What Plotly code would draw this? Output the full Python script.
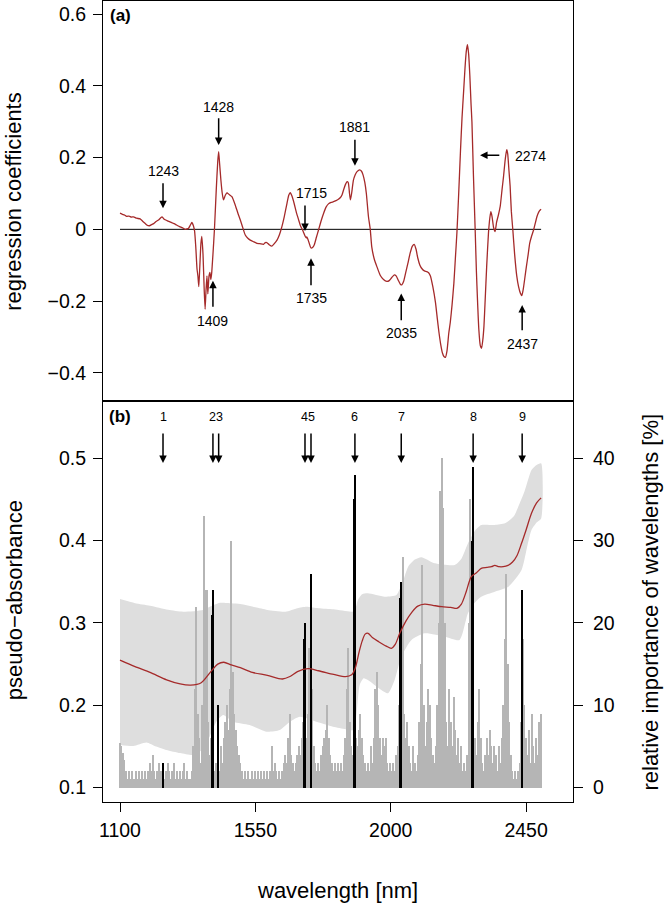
import plotly.graph_objects as go

# ---------------- Panel (a): regression coefficients ----------------
coef_wl = [1100, 1108, 1115, 1122, 1130, 1138, 1145, 1155, 1167, 1176, 1184, 1191, 1198, 1205, 1212,
           1220, 1228, 1234, 1240, 1246, 1252, 1260, 1268, 1276, 1284, 1292, 1300, 1308, 1317, 1323,
           1328, 1334, 1339, 1344, 1348, 1352, 1356, 1359, 1362, 1365, 1369, 1372, 1376, 1380, 1383,
           1386, 1389, 1392, 1396, 1399, 1402, 1405, 1409, 1414, 1420, 1425, 1428, 1431, 1435.5, 1440,
           1444, 1450, 1455.5, 1463, 1472, 1483, 1492, 1500, 1508, 1516.5, 1525, 1533, 1545, 1555, 1565,
           1577, 1583, 1588, 1596, 1605, 1613, 1622, 1630, 1638, 1646, 1655, 1661, 1666, 1672, 1679,
           1687, 1694, 1700, 1707, 1712, 1716, 1719, 1721, 1724, 1728, 1735, 1741, 1746, 1753, 1760,
           1768, 1777, 1785, 1793, 1802, 1810, 1818, 1826, 1832, 1838, 1844, 1849, 1855, 1859, 1863,
           1866, 1870, 1876, 1882, 1888, 1897, 1903, 1908, 1914, 1919, 1926, 1932, 1937, 1945, 1954,
           1965, 1976, 1987, 1995, 2003, 2012, 2018, 2025, 2032, 2037, 2043, 2050, 2057, 2065, 2072,
           2078, 2084, 2090, 2097, 2104, 2112, 2120, 2126, 2132, 2140, 2149, 2155, 2160, 2166, 2172,
           2177, 2182, 2187, 2193, 2198, 2204, 2210, 2215, 2220, 2226, 2232, 2237, 2242, 2247, 2251,
           2255, 2259, 2263, 2267, 2270, 2275, 2280.7, 2285, 2288.5, 2293, 2298, 2302, 2306, 2310, 2314,
           2319, 2325, 2330, 2333, 2337, 2342, 2347, 2352, 2358, 2364, 2370, 2375, 2380, 2384, 2386,
           2389, 2393, 2397, 2401, 2406, 2412, 2419, 2425, 2431, 2436, 2441, 2446, 2451, 2457, 2462,
           2468, 2475, 2480, 2486, 2492, 2497, 2500]
coef_val = [0.045, 0.042, 0.040, 0.036, 0.037, 0.034, 0.035, 0.031, 0.029, 0.022, 0.016, 0.011, 0.010, 0.013, 0.016,
            0.022, 0.026, 0.031, 0.035, 0.029, 0.026, 0.023, 0.020, 0.017, 0.014, 0.010, 0.007, 0.004, 0.000, 0.001,
            0.003, 0.012, 0.019, 0.010, -0.005, -0.05, -0.11, -0.13, -0.16, -0.11, -0.04, -0.02, -0.07, -0.17, -0.223,
            -0.17, -0.13, -0.18, -0.13, -0.12, -0.14, -0.12, -0.07, 0.0, 0.11, 0.19, 0.217, 0.185, 0.137, 0.10,
            0.082, 0.095, 0.102, 0.097, 0.091, 0.068, 0.045, 0.026, 0.005, -0.016, -0.025, -0.030, -0.035, -0.039, -0.040,
            -0.042, -0.037, -0.037, -0.043, -0.047, -0.040, -0.030, -0.015, 0.007, 0.035, 0.072, 0.095, 0.102, 0.092, 0.072,
            0.045, 0.026, 0.010, -0.002, -0.012, -0.020, -0.024, -0.021, -0.026, -0.036, -0.052, -0.050, -0.043, -0.022, -0.002,
            0.022, 0.045, 0.062, 0.071, 0.075, 0.077, 0.080, 0.084, 0.088, 0.096, 0.112, 0.124, 0.133, 0.130, 0.100,
            0.082, 0.100, 0.137, 0.152, 0.161, 0.166, 0.162, 0.152, 0.130, 0.100, 0.035, 0.0, -0.049, -0.082, -0.104,
            -0.128, -0.140, -0.145, -0.143, -0.135, -0.127, -0.130, -0.142, -0.153, -0.155, -0.145, -0.120, -0.095, -0.065, -0.047,
            -0.042, -0.055, -0.080, -0.100, -0.110, -0.116, -0.118, -0.121, -0.130, -0.160, -0.205, -0.250, -0.285, -0.320, -0.345,
            -0.355, -0.357, -0.340, -0.290, -0.260, -0.210, -0.150, -0.080, -0.011, 0.100, 0.220, 0.310, 0.380, 0.450, 0.495,
            0.515, 0.490, 0.430, 0.350, 0.300, 0.150, 0.0, -0.120, -0.197, -0.280, -0.325, -0.332, -0.310, -0.270, -0.197,
            -0.104, -0.010, 0.035, 0.049, 0.035, 0.005, -0.006, 0.020, 0.040, 0.064, 0.110, 0.147, 0.190, 0.215, 0.222,
            0.210, 0.165, 0.120, 0.050, -0.002, -0.070, -0.130, -0.160, -0.178, -0.185, -0.165, -0.135, -0.104, -0.070, -0.039,
            -0.020, -0.002, 0.015, 0.035, 0.048, 0.054, 0.056]

# Labelled wavelengths in panel (a)
a_labels = ["1243", "1428", "1715", "1881", "1409", "1735", "2035", "2437", "2274"]
a_label_x = [1243, 1428, 1738, 1881, 1409, 1735, 2035, 2437, 2466]
a_label_y = [0.164, 0.342, 0.100, 0.285, -0.255, -0.191, -0.290, -0.321, 0.205]
a_tail_x = [1243, 1428, 1715, 1881, 1409, 1735, 2035, 2437, 2366]
a_tail_y = [0.133, 0.314, 0.071, 0.254, -0.2205, -0.160, -0.258, -0.286, 0.2065]
a_tip_x = [1243, 1428, 1715, 1881, 1409, 1735, 2035, 2437, 2297]
a_tip_y = [0.0586, 0.235, -0.005, 0.1775, -0.1435, -0.081, -0.179, -0.211, 0.2065]

# ---------------- Panel (b): pseudo-absorbance & importance ----------------
mean_wl = [1100, 1150, 1200, 1255, 1300, 1335, 1370, 1400, 1425, 1445, 1470, 1500, 1540, 1590, 1640,
           1665, 1690, 1725, 1760, 1810, 1850, 1870, 1882, 1895, 1905, 1915, 1925, 1940, 1960, 1985,
           2002, 2015, 2030, 2050, 2070, 2090, 2113, 2140, 2170, 2200, 2220, 2235, 2250, 2268, 2285,
           2301, 2320, 2335, 2346, 2360, 2374, 2390, 2405, 2420, 2435, 2450, 2468, 2485, 2500]
mean_val = [0.255, 0.247, 0.240, 0.231, 0.226, 0.2245, 0.2275, 0.240, 0.250, 0.2523, 0.249, 0.2457, 0.240, 0.2365, 0.232,
            0.235, 0.241, 0.2445, 0.242, 0.2377, 0.2348, 0.237, 0.245, 0.265, 0.278, 0.2865, 0.2875, 0.282, 0.2773, 0.272,
            0.2693, 0.274, 0.2875, 0.302, 0.313, 0.3205, 0.323, 0.3215, 0.3198, 0.319, 0.3178, 0.323, 0.337, 0.3562, 0.361,
            0.3664, 0.3675, 0.3684, 0.370, 0.3684, 0.3684, 0.370, 0.374, 0.382, 0.3968, 0.413, 0.4332, 0.446, 0.452]

band_hi_wl = [1100, 1150, 1200, 1260, 1310, 1376, 1400, 1432, 1470, 1500, 1550, 1590, 1650, 1690, 1720,
              1760, 1810, 1869, 1880, 1891, 1905, 1924, 1980, 2019, 2040, 2058, 2080, 2102, 2147, 2213,
              2235, 2257, 2280, 2301, 2346, 2380, 2410, 2424, 2445, 2468, 2485, 2500]
band_hi = [0.329, 0.324, 0.321, 0.316, 0.3137, 0.3158, 0.320, 0.3246, 0.324, 0.323, 0.319, 0.3158, 0.3137, 0.318, 0.3198,
           0.318, 0.3166, 0.3137, 0.315, 0.328, 0.335, 0.336, 0.332, 0.334, 0.350, 0.3684, 0.377, 0.380, 0.3725, 0.3704,
           0.378, 0.3968, 0.412, 0.419, 0.419, 0.421, 0.430, 0.4412, 0.460, 0.4858, 0.492, 0.494]
band_lo_wl = [1100, 1144, 1188, 1220, 1254, 1300, 1343, 1370, 1398, 1420, 1443, 1476, 1531, 1587, 1631,
              1665, 1698, 1753, 1808, 1850, 1875, 1885, 1897, 1910, 1924, 1969, 1991, 2013, 2035, 2069,
              2113, 2180, 2229, 2257, 2280, 2301, 2346, 2391, 2435, 2455, 2468, 2485, 2500]
band_lo = [0.1518, 0.1507, 0.155, 0.150, 0.1458, 0.142, 0.1397, 0.145, 0.162, 0.180, 0.1883, 0.180, 0.176, 0.168, 0.170,
           0.180, 0.186, 0.180, 0.174, 0.171, 0.170, 0.185, 0.225, 0.233, 0.2308, 0.2186, 0.2146, 0.2308, 0.259, 0.2794,
           0.2875, 0.2834, 0.2794, 0.312, 0.325, 0.332, 0.338, 0.344, 0.3644, 0.395, 0.413, 0.422, 0.427]

imp_wl = list(range(1100, 2501, 5))
imp_val = [
    5.4, 5.0, 4.2, 3.3, 2, 1, 2, 1, 2, 1,       # 1100
    1, 2, 1, 2, 1, 2, 1, 2, 1, 2,               # 1150
    3, 2, 4, 2, 1, 2, 3, 2, 2, 2,               # 1200
    1, 2, 3, 2, 1, 2, 3, 1, 2, 1,               # 1250
    2, 1, 2, 3, 1, 2, 1, 1, 2, 5,               # 1300
    12, 22, 9, 6, 3, 10, 33, 24, 24, 8,         # 1350
    4, 6, 3, 2, 3, 4, 2, 5, 3, 6,               # 1400
    8, 10, 7, 12, 30, 14, 9, 7, 5, 4,           # 1450
    3, 2, 1, 2, 1, 2, 1, 1, 2, 1,               # 1500
    2, 1, 2, 1, 2, 1, 2, 1, 2, 1,               # 1550
    2, 5, 2, 3, 2, 1, 2, 1, 2, 3,               # 1600
    4, 3, 6, 9, 4, 3, 2, 3, 4, 5,               # 1650
    4, 6, 8, 10, 6, 9, 17, 12, 12, 5,           # 1700
    3, 2, 3, 2, 4, 5, 6, 7, 10, 6,              # 1750
    4, 3, 2, 3, 2, 3, 2, 3, 2, 4,               # 1800
    6, 12, 17, 8, 5, 4, 27, 6, 5, 7,            # 1850
    9, 6, 4, 3, 2, 3, 2, 5, 3, 6,               # 1900
    12, 14, 10, 6, 4, 6, 5, 6, 3, 2,            # 1950
    3, 2, 3, 2, 4, 5, 10, 12, 28, 9,            # 2000
    6, 8, 5, 3, 2, 5, 3, 2, 4, 8,               # 2050
    15, 27, 10, 5, 8, 12, 10, 6, 4, 3,          # 2100
    5, 10, 20, 36, 40, 34, 20, 8, 5, 12,        # 2150
    8, 5, 11, 7, 4, 6, 3, 5, 2, 3,              # 2200
    2, 4, 20, 35, 12, 8, 6, 4, 8, 12,           # 2250
    6, 3, 2, 4, 6, 4, 7, 5, 3, 5,               # 2300
    4, 2, 5, 3, 6, 10, 18, 26, 15, 8,           # 2350
    4, 2, 1, 2, 1, 2, 3, 8, 18, 10,             # 2400
    6, 4, 7, 3, 9, 5, 3, 6, 4, 8,               # 2450
    9]                                          # 2500

sel_wl = [1243, 1407, 1409, 1428, 1713, 1715, 1735, 1879, 1881, 2033, 2035, 2272, 2274, 2437]
sel_val = [3, 21, 24, 10, 18, 20, 26, 35, 38, 23, 25, 30, 39, 24]

b_arrow_wl = [1243, 1409, 1428, 1715, 1735, 1881, 2035, 2274, 2437]
b_labels = ["1", "23", "45", "6", "7", "8", "9"]
b_label_groups = [[0], [1, 2], [3, 4], [5], [6], [7], [8]]

x_ticks = [1100, 1550, 2000, 2450]
a_yticks = [-0.4, -0.2, 0, 0.2, 0.4, 0.6]
b_yticks = [0.1, 0.2, 0.3, 0.4, 0.5]
b_y2ticks = [0, 10, 20, 30, 40]

# ---------------- styling ----------------
RED = "#A52A2A"
BAND = "#dedede"
BARGREY = "#b5b5b5"
FONT = "Liberation Sans, Arial, sans-serif"
TICKF = 19.5
TITLEF = 22

XR = [1043.5, 2606]
YA = [-0.479, 0.637]
YB = [0.0826, 0.5696]
YB2 = [(YB[0] - 0.1) * 100, (YB[1] - 0.1) * 100]
DIV = 0.5006

fig = go.Figure()

# panel (a)
fig.add_trace(go.Scatter(x=[coef_wl[0], coef_wl[-1]], y=[0, 0], mode="lines",
                         line=dict(color="black", width=1), xaxis="x", yaxis="y", hoverinfo="skip"))
fig.add_trace(go.Scatter(x=coef_wl, y=coef_val, mode="lines",
                         line=dict(color=RED, width=1.3, shape="spline", smoothing=0.5),
                         xaxis="x", yaxis="y"))

# panel (b) band
poly_x = band_hi_wl + band_lo_wl[::-1]
poly_y = band_hi + band_lo[::-1]
fig.add_trace(go.Scatter(x=poly_x, y=poly_y, mode="lines", fill="toself", fillcolor=BAND,
                         line=dict(width=0, shape="spline", smoothing=0.6), xaxis="x2", yaxis="y2",
                         hoverinfo="skip"))
# importance bars
fig.add_trace(go.Bar(x=imp_wl, y=imp_val, width=5, marker=dict(color=BARGREY, line=dict(width=0)),
                     xaxis="x2", yaxis="y3"))
fig.add_trace(go.Bar(x=sel_wl, y=sel_val, width=5.5, marker=dict(color="black", line=dict(width=0)),
                     xaxis="x2", yaxis="y3"))
# mean spectrum
fig.add_trace(go.Scatter(x=mean_wl, y=mean_val, mode="lines",
                         line=dict(color=RED, width=1.3, shape="spline", smoothing=0.8),
                         xaxis="x2", yaxis="y4"))

ann = []
arrow_common = dict(showarrow=True, arrowhead=2, arrowsize=1, arrowwidth=1.5, arrowcolor="black",
                    text="", standoff=0, startstandoff=0)
for i, t in enumerate(a_labels):
    ann.append(dict(x=a_label_x[i], y=a_label_y[i], xref="x", yref="y", text=t, showarrow=False,
                    xanchor="center", yanchor="middle",
                    font=dict(size=14, family=FONT, color="black")))
    ann.append(dict(x=a_tip_x[i], y=a_tip_y[i], ax=a_tail_x[i], ay=a_tail_y[i], xref="x", yref="y",
                    axref="x", ayref="y", **arrow_common))

B_TAIL, B_TIP, B_LAB = 0.532, 0.4943, 0.5502
for w in b_arrow_wl:
    ann.append(dict(x=w, y=B_TIP, ax=w, ay=B_TAIL, xref="x2", yref="y2", axref="x2", ayref="y2",
                    **arrow_common))
for t, g in zip(b_labels, b_label_groups):
    xm = sum(b_arrow_wl[k] for k in g) / len(g)
    ann.append(dict(x=xm, y=B_LAB, xref="x2", yref="y2", text=t, showarrow=False,
                    xanchor="center", yanchor="middle",
                    font=dict(size=12.5, family=FONT, color="black")))

# panel tags
ann.append(dict(x=1100, y=0.596, xref="x", yref="y", text="<b>(a)</b>", showarrow=False,
                xanchor="center", yanchor="middle", font=dict(size=17, family=FONT, color="black")))
ann.append(dict(x=1100, y=B_LAB, xref="x2", yref="y2", text="<b>(b)</b>", showarrow=False,
                xanchor="center", yanchor="middle", font=dict(size=17, family=FONT, color="black")))

# axis titles
title_font = dict(size=TITLEF, family=FONT, color="black")
ann.append(dict(x=-0.1894, y=0.7506, xref="paper", yref="paper", text="regression coefficients",
                textangle=-90, showarrow=False, xanchor="center", yanchor="middle", font=title_font))
ann.append(dict(x=-0.1894, y=0.252, xref="paper", yref="paper", text="pseudo\u2212absorbance",
                textangle=-90, showarrow=False, xanchor="center", yanchor="middle", font=title_font))
ann.append(dict(x=1.166, y=0.249, xref="paper", yref="paper", text="relative importance of wavelengths [%]",
                textangle=-90, showarrow=False, xanchor="center", yanchor="middle", font=title_font))
ann.append(dict(x=0.498, y=-0.1099, xref="paper", yref="paper", text="wavelength [nm]",
                showarrow=False, xanchor="center", yanchor="middle", font=title_font))

axis_common = dict(showgrid=False, zeroline=False, showline=True, linecolor="black", linewidth=1,
                   ticks="outside", ticklen=9, tickwidth=1, tickcolor="black",
                   tickfont=dict(size=TICKF, family=FONT, color="black"))

fig.update_layout(
    width=666, height=904,
    margin=dict(l=103, r=93, t=1, b=102, pad=0),
    paper_bgcolor="white", plot_bgcolor="white",
    showlegend=False, barmode="overlay", bargap=0,
    font=dict(family=FONT, color="black"),
    xaxis=dict(domain=[0, 1], range=XR, anchor="y", showgrid=False, zeroline=False, showline=True,
               linecolor="black", linewidth=1, mirror=True, showticklabels=False, ticks=""),
    yaxis=dict(domain=[DIV, 1], range=YA, anchor="x", tickvals=a_yticks, mirror=True,
               ticklabelstandoff=3, **axis_common),
    xaxis2=dict(domain=[0, 1], range=XR, anchor="y2", tickvals=x_ticks, mirror=True,
                ticklabelstandoff=2, **axis_common),
    yaxis2=dict(domain=[0, DIV], range=YB, anchor="x2", tickvals=b_yticks, mirror=True,
                ticklabelstandoff=3, **axis_common),
    yaxis3=dict(range=YB2, anchor="x2", overlaying="y2", side="right", tickvals=b_y2ticks,
                ticklabelstandoff=6, **axis_common),
    yaxis4=dict(range=YB, anchor="x2", overlaying="y2", visible=False),
    annotations=ann,
)

fig.write_html("out.html", config={"displayModeBar": False},
               post_script="document.body.style.margin='0px';")
